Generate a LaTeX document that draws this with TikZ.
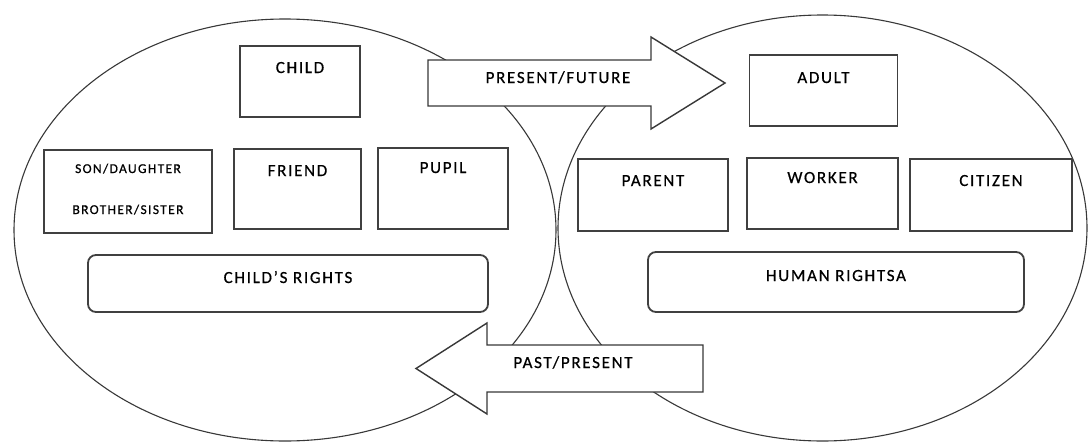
\documentclass[tikz,border=0pt]{standalone}
\usepackage{fontspec}
\newfontfamily\lblfont[LetterSpace=10,FakeBold=0.6]{Carlito}
\tikzset{
  x=1pt, y=-1pt,
  ring/.style={draw=black!78, line width=1.1pt},
  box/.style={draw=black!75, line width=1.8pt, fill=white, inner sep=0pt},
  rbox/.style={box, rounded corners=8pt},
  bigarrow/.style={draw=black!78, line width=1.4pt, fill=white, line join=miter},
  txt/.style={anchor=base, inner sep=0pt, text=black, font=\lblfont\fontsize{17}{20}\selectfont},
  smalltxt/.style={txt, font=\lblfont\fontsize{13.5}{16}\selectfont}
}
\begin{document}
\begin{tikzpicture}
\useasboundingbox (0,0) rectangle (1088,442);
% the two overlapping ellipses
\draw[ring] (285,230) ellipse [x radius=271, y radius=211];
\draw[ring] (822.5,228) ellipse [x radius=264.5, y radius=213];
% block arrows
\draw[bigarrow] (428,60) -- (651,60) -- (651,37) -- (725,83) -- (651,129) -- (651,106) -- (428,106) -- cycle;
\draw[bigarrow] (703,345) -- (487,345) -- (487,323) -- (416,368.5) -- (487,414) -- (487,392) -- (703,392) -- cycle;
\node[txt] (pf) at (558,83) {PRESENT/FUTURE};
\node[txt] (pp) at (573,368) {PAST/PRESENT};
% left group
\node[box, minimum width=120pt, minimum height=71pt] (child) at (300,81.5) {};
\node[box, minimum width=168pt, minimum height=83pt] (son) at (128,191.5) {};
\node[box, minimum width=127pt, minimum height=80pt] (friend) at (297.5,189) {};
\node[box, minimum width=130pt, minimum height=81pt] (pupil) at (443,188.5) {};
\node[rbox, minimum width=400pt, minimum height=57pt] (crights) at (288,283.5) {};
\node[txt] (childt) at (300,73) {CHILD};
\node[smalltxt] (sont) at (128,173) {SON/DAUGHTER};
\node[smalltxt] (brot) at (128,214) {BROTHER/SISTER};
\node[txt] (friendt) at (297.5,176) {FRIEND};
\node[txt] (pupilt) at (443,173) {PUPIL};
\node[txt] (crightst) at (288,283) {CHILD’S RIGHTS};
% right group
\node[box, minimum width=148pt, minimum height=71pt] (adult) at (823.5,90.5) {};
\node[box, minimum width=150pt, minimum height=72pt] (parent) at (653,195) {};
\node[box, minimum width=151pt, minimum height=71pt] (worker) at (822.5,193.5) {};
\node[box, minimum width=162pt, minimum height=72pt] (citizen) at (991,195) {};
\node[rbox, minimum width=376pt, minimum height=60pt] (hrights) at (836,282) {};
\node[txt] (adultt) at (823.5,83) {ADULT};
\node[txt] (parentt) at (653,186) {PARENT};
\node[txt] (workert) at (822.5,183) {WORKER};
\node[txt] (citizent) at (991,186) {CITIZEN};
\node[txt] (hrightst) at (836,281) {HUMAN RIGHTSA};
\end{tikzpicture}
\end{document}
